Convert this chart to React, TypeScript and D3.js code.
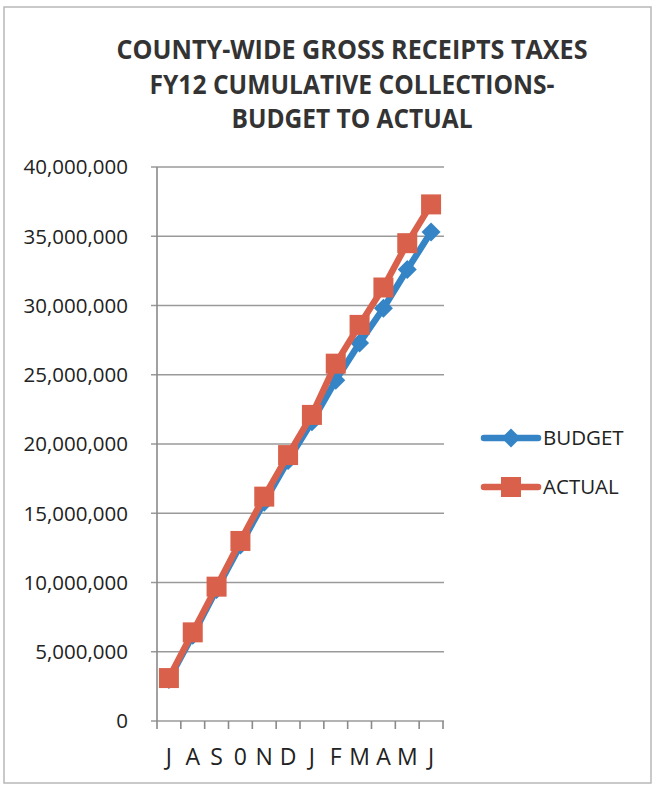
import React from "react";
import * as d3 from "d3";

const months = ["J", "A", "S", "0", "N", "D", "J", "F", "M", "A", "M", "J"];
const budget = [3.0, 6.2, 9.5, 12.7, 15.8, 18.8, 21.6, 24.6, 27.3, 29.8, 32.6, 35.3].map((v) => v * 1e6);
const actual = [3.1, 6.4, 9.7, 13.0, 16.2, 19.2, 22.1, 25.8, 28.6, 31.3, 34.5, 37.3].map((v) => v * 1e6);
const yTicks = [0, 5e6, 10e6, 15e6, 20e6, 25e6, 30e6, 35e6, 40e6];
const titleLines = ["COUNTY-WIDE GROSS RECEIPTS TAXES", "FY12 CUMULATIVE COLLECTIONS-", "BUDGET TO ACTUAL"];
const seriesNames = ["BUDGET", "ACTUAL"];

const BLUE = "#3585C6";
const RED = "#D9614B";
const FONT = "'Open Sans', 'DejaVu Sans', sans-serif";

export default function App() {
  const W = 653, H = 785;
  const left = 157, right = 443, top = 167, bottom = 721;
  const idx = months.map((_, i) => i);
  const x = d3.scaleBand<number>().domain(idx).range([left, right]).padding(0);
  const y = d3.scaleLinear().domain([0, 40e6]).range([bottom, top]);
  const cx = (i: number) => (x(i) as number) + x.bandwidth() / 2;
  const line = d3.line<number>().x((_, i) => cx(i)).y((d) => y(d));
  const fmt = d3.format(",");
  const titleWidths = [471, 405, 241];
  const titleY = [59, 94, 128];
  const diamondPath = d3.symbol().type(d3.symbolDiamond2).size(230)() || "";

  return (
    <svg width={W} height={H} style={{ position: "absolute", left: 0, top: 0, background: "#fff" }}>
      <rect x={4} y={7} width={647} height={776} fill="#fff" stroke="#b8b8b8" strokeWidth={1.5} />
      {titleLines.map((t, i) => (
        <text key={i} x={352} y={titleY[i]} textAnchor="middle" fontFamily={FONT} fontWeight={700}
          fontSize={27} fill="#333" textLength={titleWidths[i]} lengthAdjust="spacingAndGlyphs">{t}</text>
      ))}
      {yTicks.map((t) => (
        <g key={t}>
          <line x1={left - 6} x2={right + 1} y1={y(t)} y2={y(t)} stroke="#9a9a9a" strokeWidth={1.6} />
          <text x={128} y={y(t)} dy="0.36em" textAnchor="end" fontFamily={FONT} fontSize={20.5} fill="#222">{fmt(t)}</text>
        </g>
      ))}
      <line x1={left} x2={left} y1={top} y2={bottom} stroke="#8a8a8a" strokeWidth={1.6} />
      {d3.range(months.length + 1).map((i) => {
        const xx = left + i * x.bandwidth();
        return <line key={i} x1={xx} x2={xx} y1={bottom} y2={bottom + 8} stroke="#8a8a8a" strokeWidth={1.6} />;
      })}
      {months.map((m, i) => (
        <text key={i} x={cx(i)} y={765} textAnchor="middle" fontFamily={FONT} fontSize={23} fill="#222">{m}</text>
      ))}
      <path d={line(budget) || ""} fill="none" stroke={BLUE} strokeWidth={6.5} strokeLinejoin="round" />
      {budget.map((v, i) => (
        <path key={i} d={diamondPath} transform={`translate(${cx(i)},${y(v)})`} fill={BLUE} />
      ))}
      <path d={line(actual) || ""} fill="none" stroke={RED} strokeWidth={6.5} strokeLinejoin="round" />
      {actual.map((v, i) => (
        <rect key={i} x={cx(i) - 10} y={y(v) - 10} width={20} height={20} fill={RED} />
      ))}
      {seriesNames.map((s, i) => {
        const ly = 438 + i * 49;
        return (
          <g key={s}>
            <line x1={484} x2={538} y1={ly} y2={ly} stroke={i === 0 ? BLUE : RED} strokeWidth={6.5} strokeLinecap="round" />
            {i === 0 ? (
              <path d={diamondPath} transform={`translate(511,${ly})`} fill={BLUE} />
            ) : (
              <rect x={501} y={ly - 10} width={20} height={20} fill={RED} />
            )}
            <text x={543} y={ly} dy="0.36em" fontFamily={FONT} fontSize={20.5} fill="#222">{s}</text>
          </g>
        );
      })}
    </svg>
  );
}
